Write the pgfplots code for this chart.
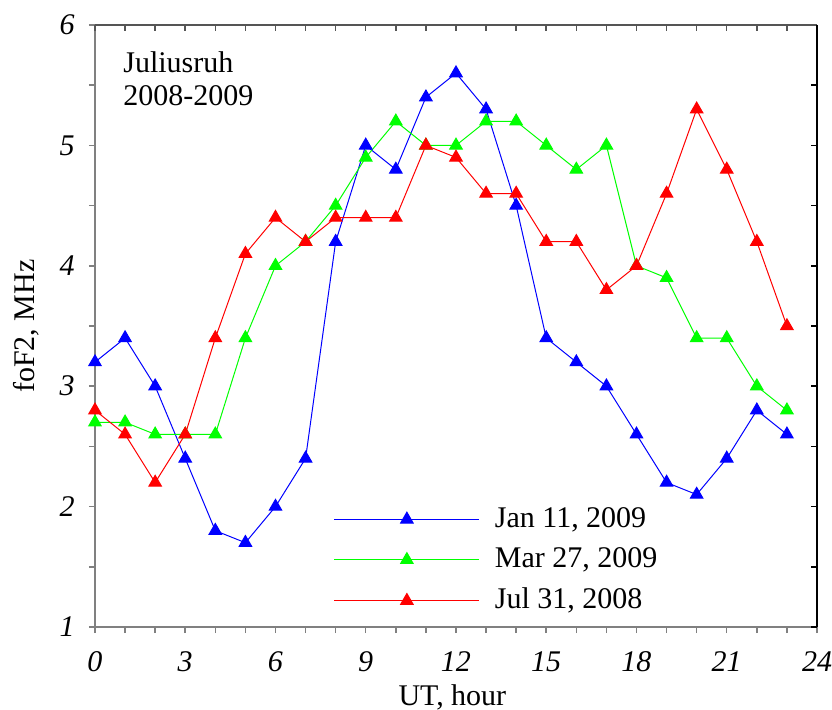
\documentclass[border=0pt]{standalone}
\usepackage{fontspec}
\setmainfont{Liberation Serif}
\usepackage{pgfplots}
\pgfplotsset{compat=1.18}
\definecolor{axgray}{RGB}{128,128,128}
\definecolor{topgray}{RGB}{85,85,85}
\begin{document}
\fontsize{15}{18}\selectfont
\begin{tikzpicture}
\begin{axis}[
  scale only axis, width=361pt, height=301pt,
  xmin=0, xmax=24, ymin=1, ymax=6,
  axis x line*=bottom, axis y line*=left,
  axis line style={axgray, line width=1pt, -},
  xtick={0,...,24},
  xticklabels={0,,,3,,,6,,,9,,,12,,,15,,,18,,,21,,,24},
  ytick={1,1.5,...,6},
  yticklabels={1,,2,,3,,4,,5,,6},
  tick align=outside, major tick length=3pt,
  tick style={axgray, line width=0.75pt},
  ticklabel style={font=\fontsize{15}{18}\selectfont\itshape},
  xticklabel style={yshift=-4pt},
  yticklabel style={xshift=-2pt},
  xlabel={UT, hour}, ylabel={foF2, MHz},
  label style={font=\fontsize{15}{18}\selectfont},
  xlabel style={at={(axis description cs:0.495,0)}, yshift=-39pt, anchor=base},
  legend style={draw=none, fill=none, at={(rel axis cs:0.322,0.213)}, anchor=north west,
    font=\fontsize{15}{18}\selectfont, row sep=4pt, column sep=5.5pt},
  legend cell align=left,
  legend image code/.code={\draw[mark repeat=2,mark phase=2,#1] plot coordinates {(0pt,0pt) (36.25pt,0pt) (72.5pt,0pt)};},
  every axis plot/.append style={line width=0.5pt, mark=triangle*, mark size=3.6pt},
]
\addplot[blue, mark options={fill=blue}] coordinates {
(0,3.2) (1,3.4) (2,3.0) (3,2.4) (4,1.8) (5,1.7) (6,2.0) (7,2.4) (8,4.2) (9,5.0) (10,4.8) (11,5.4)
(12,5.6) (13,5.3) (14,4.5) (15,3.4) (16,3.2) (17,3.0) (18,2.6) (19,2.2) (20,2.1) (21,2.4) (22,2.8) (23,2.6)};
\addlegendentry{Jan 11, 2009}
\addplot[green, mark options={fill=green}] coordinates {
(0,2.7) (1,2.7) (2,2.6) (3,2.6) (4,2.6) (5,3.4) (6,4.0) (7,4.2) (8,4.5) (9,4.9) (10,5.2) (11,5.0)
(12,5.0) (13,5.2) (14,5.2) (15,5.0) (16,4.8) (17,5.0) (18,4.0) (19,3.9) (20,3.4) (21,3.4) (22,3.0) (23,2.8)};
\addlegendentry{Mar 27, 2009}
\addplot[red, mark options={fill=red}] coordinates {
(0,2.8) (1,2.6) (2,2.2) (3,2.6) (4,3.4) (5,4.1) (6,4.4) (7,4.2) (8,4.4) (9,4.4) (10,4.4) (11,5.0)
(12,4.9) (13,4.6) (14,4.6) (15,4.2) (16,4.2) (17,3.8) (18,4.0) (19,4.6) (20,5.3) (21,4.8) (22,4.2) (23,3.5)};
\addlegendentry{Jul 31, 2008}
\node[anchor=north west, align=left, inner sep=0pt, font=\fontsize{15}{16.5}\selectfont]
  at (axis cs:0.93,5.78) {Juliusruh\\2008-2009};
\end{axis}
\begin{axis}[
  scale only axis, width=361pt, height=301pt,
  xmin=0, xmax=24, ymin=1, ymax=6,
  axis x line*=top, axis y line*=right,
  x axis line style={topgray, line width=1pt, -},
  y axis line style={black, line width=1pt, -},
  xtick={0,...,24}, ytick={1,1.5,...,6},
  xticklabels={}, yticklabels={},
  tick align=inside, major tick length=3pt,
  x tick style={topgray, line width=0.75pt},
  y tick style={black, line width=0.75pt},
]
\end{axis}
\pgfresetboundingbox
\path (-47.5pt,-41pt) rectangle (368.5pt,313.5pt);
\end{tikzpicture}
\end{document}
